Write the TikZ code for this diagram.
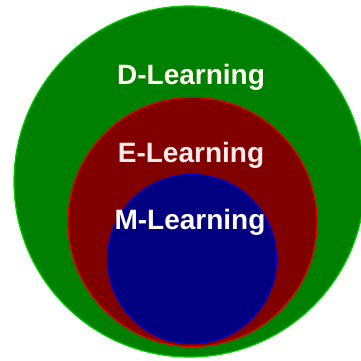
\documentclass[tikz,border=0pt]{standalone}
\usepackage{fontspec}
\setmainfont{Liberation Sans}
\begin{document}
\begin{tikzpicture}[x=1pt,y=-1pt,
  lbl/.style={anchor=base,text=white!94!yellow,font=\bfseries\fontsize{28}{30}\selectfont,inner sep=0pt}]
\useasboundingbox (0,0) rectangle (361,361);
\definecolor{dgreen}{HTML}{008000}
\definecolor{dred}{HTML}{800000}
\definecolor{dblue}{HTML}{000080}
\clip (0,0) rectangle (361,361);
\fill[white] (0,0) rectangle (361,361);
\filldraw[fill=dgreen,draw=green!80!black,line width=1.2pt] (189.5,181.5) circle (175.5);
\filldraw[fill=dred,draw=red!90!black,line width=1.2pt] (192.5,222) circle (124.5);
\filldraw[fill=dblue,draw=blue!80!black,line width=1.2pt] (192,259) circle (84.5);
\node[lbl] (d) at (191,84) {D-Learning};
\node[lbl,text=white!92!red] (e) at (191,162) {E-Learning};
\node[lbl] (m) at (190,229) {M-Learning};
\end{tikzpicture}
\end{document}
